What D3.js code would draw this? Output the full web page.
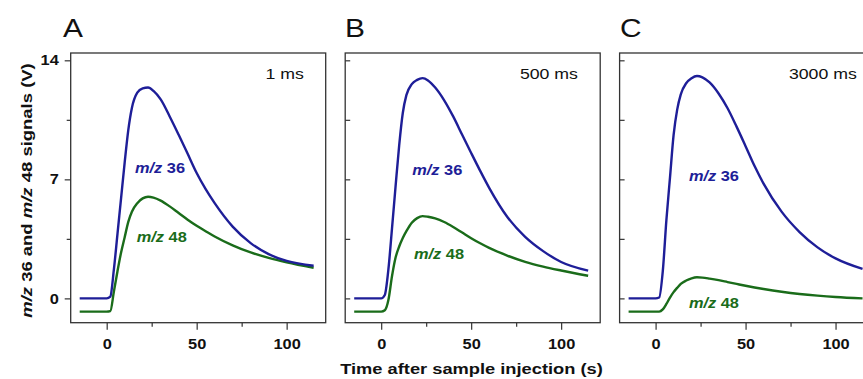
<!DOCTYPE html>
<html>
<head>
<meta charset="utf-8">
<script src="https://cdn.jsdelivr.net/npm/d3@7"></script>
<style>
  html, body { margin: 0; padding: 0; background: #fff; }
  svg { display: block; font-family: "Liberation Sans", Arial, sans-serif; }
</style>
</head>
<body>
<svg id="chart" width="863" height="379"></svg>
<script>
/* ---------------------------------------------------
   Data
--------------------------------------------------- */

const panelLetters = ["A", "B", "C"];
const delayLabels = ["1 ms", "500 ms", "3000 ms"];

// time after sample injection (s)
const timeS = [-15, 0, 2, 4, 6, 8, 10, 12, 14, 17, 20, 23, 26, 30, 35, 40, 45, 50, 55, 60, 70, 80, 90, 100, 115];

// signals (V)
const mz36A = [0, 0, 0.1, 1.7, 3.8, 5.9, 8.0, 9.9, 11.2, 12.1, 12.35, 12.4, 12.2, 11.7, 10.7, 9.62, 8.5, 7.37, 6.42, 5.6, 4.22, 3.25, 2.6, 2.2, 1.92];
const mz48A = [-0.78, -0.78, -0.75, 0.4, 1.6, 2.7, 3.6, 4.5, 5.1, 5.6, 5.88, 5.98, 5.93, 5.75, 5.41, 5.02, 4.63, 4.27, 3.95, 3.64, 3.12, 2.7, 2.38, 2.12, 1.8];

const mz36B = [0, 0, 0.2, 1.7, 4.1, 6.6, 9.0, 10.9, 11.95, 12.6, 12.85, 12.95, 12.82, 12.4, 11.65, 10.7, 9.62, 8.55, 7.5, 6.5, 4.8, 3.62, 2.78, 2.14, 1.63];
const mz48B = [-0.78, -0.78, -0.7, -0.1, 1.3, 2.4, 3.05, 3.55, 3.95, 4.45, 4.72, 4.84, 4.8, 4.7, 4.49, 4.2, 3.87, 3.54, 3.24, 2.97, 2.52, 2.15, 1.87, 1.64, 1.33];

const mz36C = [0, 0, 0.05, 1.6, 4.6, 7.1, 9.6, 11.1, 12.0, 12.65, 12.95, 13.08, 13.0, 12.7, 12.05, 11.18, 10.1, 8.95, 7.78, 6.75, 5.1, 3.9, 3.0, 2.35, 1.73];
const mz48C = [-0.78, -0.78, -0.78, -0.65, -0.33, 0.05, 0.37, 0.62, 0.85, 1.05, 1.18, 1.24, 1.22, 1.16, 1.07, 0.96, 0.85, 0.74, 0.64, 0.55, 0.39, 0.26, 0.16, 0.08, 0.0];

// where the curve labels sit (data coords: start x, baseline y)
const label36Pos = [[15.7, 7.4], [17.2, 7.25], [18.5, 6.9]];
const label48Pos = [[16.7, 3.33], [18.2, 2.31], [18.5, -0.55]];

const xTicks = [0, 50, 100];
const xMinorTicks = [25, 75];
const yTicks = [0, 7, 14];
const yMinorTicks = [3.5, 10.5];

/* ---------------------------------------------------
   Setup
--------------------------------------------------- */

const svg = d3.select("#chart");

const blue = "#1e1e98";
const green = "#1a6c1a";
const frameColour = "#333";

const panelLeft = [70.7, 345.2, 619.6];
const panelWidth = 255;
const plotTop = 53;
const plotBottom = 322.7;
const letterX = [63, 345, 620];
const delayEndX = [109.6, 109.3, 111.8];

const y = d3.scaleLinear()
  .domain([-1.43, 14.43])
  .range([plotBottom, plotTop]);

// most text in the figure is set a little wider than Arial
function wideText(parent, x, yPos, size, weight, anchor, sx, rotate) {
  return parent.append("g")
    .attr("transform", `translate(${x},${yPos}) rotate(${rotate || 0}) scale(${sx},1)`)
    .append("text")
    .attr("text-anchor", anchor)
    .attr("font-size", size)
    .attr("font-weight", weight)
    .attr("fill", "#111");
}

const panels = [
  { s36: mz36A, s48: mz48A },
  { s36: mz36B, s48: mz48B },
  { s36: mz36C, s48: mz48C }
];

/* ---------------------------------------------------
   Panels
--------------------------------------------------- */

panels.forEach((p, i) => {
  const g = svg.append("g");

  const x = d3.scaleLinear()
    .domain([-20, 121.7])
    .range([panelLeft[i], panelLeft[i] + panelWidth]);

  // x axis, ticks outward
  g.append("g")
    .attr("transform", `translate(0,${plotBottom})`)
    .call(d3.axisBottom(x).tickValues(xTicks).tickSize(7).tickPadding(9));
  g.append("g")
    .attr("transform", `translate(0,${plotBottom})`)
    .call(d3.axisBottom(x).tickValues(xMinorTicks).tickSize(4).tickFormat(""));

  // y axis: labelled outward on A, inward ticks on B and C
  if (i === 0) {
    g.append("g")
      .attr("transform", `translate(${panelLeft[i]},0)`)
      .call(d3.axisLeft(y).tickValues(yTicks).tickSize(6).tickPadding(4.5));
    g.append("g")
      .attr("transform", `translate(${panelLeft[i]},0)`)
      .call(d3.axisLeft(y).tickValues(yMinorTicks).tickSize(4).tickFormat(""));
  } else {
    g.append("g")
      .attr("transform", `translate(${panelLeft[i]},0)`)
      .call(d3.axisRight(y).tickValues(yTicks.concat(yMinorTicks)).tickSize(5).tickFormat(""));
  }

  g.selectAll(".domain").remove();
  g.selectAll(".tick line").attr("stroke", frameColour).attr("stroke-width", 1.2);
  g.selectAll(".tick text")
    .attr("font-family", "Liberation Sans, Arial, sans-serif")
    .attr("font-size", 14.5)
    .attr("font-weight", "bold")
    .attr("fill", "#111")
    .attr("transform", "scale(1.13,1)");

  // frame
  g.append("rect")
    .attr("x", panelLeft[i])
    .attr("y", plotTop)
    .attr("width", panelWidth)
    .attr("height", plotBottom - plotTop)
    .attr("fill", "none")
    .attr("stroke", frameColour)
    .attr("stroke-width", 1.3);

  const line = d3.line()
    .x((d, k) => x(timeS[k]))
    .y(d => y(d))
    .curve(d3.curveMonotoneX);

  g.append("path")
    .attr("d", line(p.s48))
    .attr("fill", "none")
    .attr("stroke", green)
    .attr("stroke-width", 2.4);

  g.append("path")
    .attr("d", line(p.s36))
    .attr("fill", "none")
    .attr("stroke", blue)
    .attr("stroke-width", 2.4);

  // curve labels
  [[label36Pos[i], " 36", blue], [label48Pos[i], " 48", green]].forEach(([pos, num, col]) => {
    const t = wideText(g, x(pos[0]), y(pos[1]), 14.5, "bold", "start", 1.13)
      .attr("fill", col);
    t.append("tspan").attr("font-style", "italic").text("m/z");
    t.append("tspan").text(num);
  });

  // delay label
  wideText(g, x(delayEndX[i]), 79, 15, "normal", "end", 1.18)
    .text(delayLabels[i]);

  // panel letter
  wideText(g, letterX[i], 36.7, 26, "normal", "start", 1.15)
    .text(panelLetters[i]);
});

/* ---------------------------------------------------
   Axis titles
--------------------------------------------------- */

wideText(svg, 471.5, 374, 15.5, "bold", "middle", 1.18)
  .text("Time after sample injection (s)");

const yTitle = wideText(svg, 31.7, 190.5, 15.4, "bold", "middle", 1.2, -90);
yTitle.append("tspan").attr("font-style", "italic").text("m/z");
yTitle.append("tspan").text(" 36 and ");
yTitle.append("tspan").attr("font-style", "italic").text("m/z");
yTitle.append("tspan").text(" 48 signals (V)");
</script>
</body>
</html>
